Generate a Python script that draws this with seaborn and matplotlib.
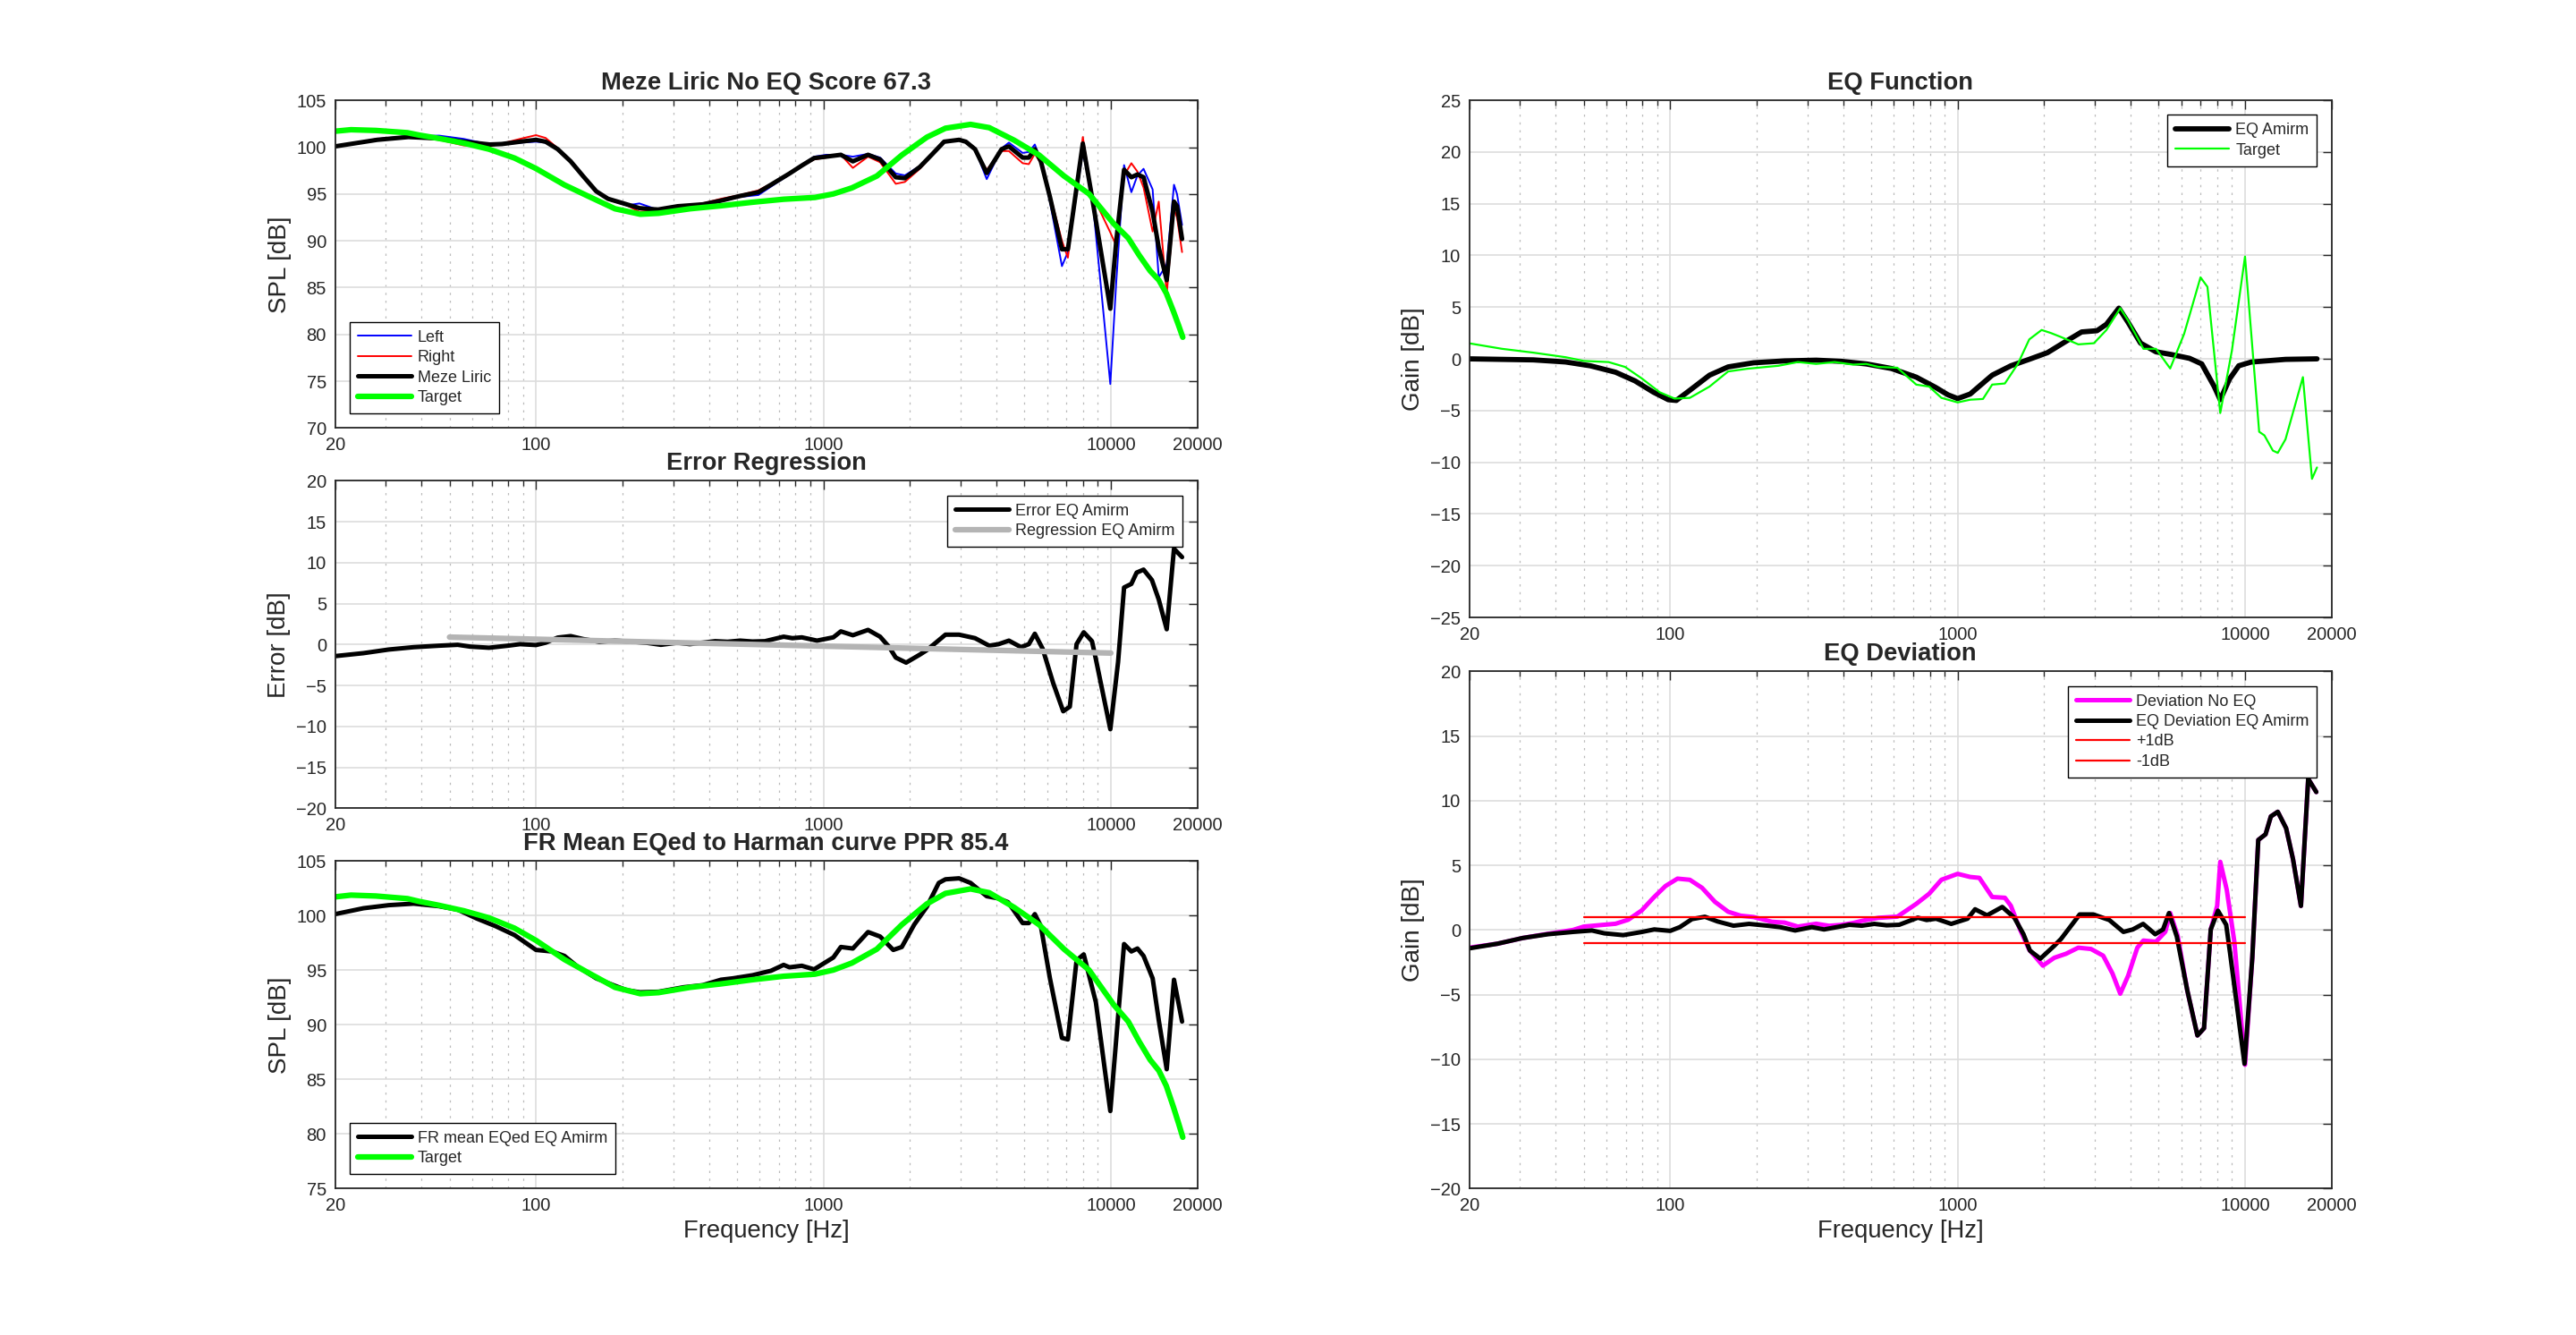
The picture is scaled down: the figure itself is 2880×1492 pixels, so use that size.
import matplotlib
matplotlib.use("Agg")
import matplotlib.pyplot as plt
import seaborn as sns
from matplotlib.ticker import FixedLocator, NullFormatter

# ---- panel 1: raw measurement (Left / Right / mean) ----
f_meas = [20, 28, 36, 46, 56, 69, 76, 88, 100, 108, 119, 132, 146, 162, 178, 207, 229, 250,
          266, 311, 380, 440, 513, 594, 657, 762, 841, 928, 1022, 1150, 1266, 1430, 1575, 1785,
          1920, 2165, 2380, 2630, 2965, 3130, 3370, 3700, 4170, 4420, 4935, 5185, 5440, 5710,
          6140, 6760, 7090, 7990, 8600, 9960, 10440, 11120, 11790, 12380, 13000, 13980, 14680,
          15650, 16590, 17000, 17700]
spl_left = [100.1, 100.9, 101.2, 101.25, 100.9, 100.3, 100.3, 100.5, 100.6, 100.5, 99.8, 98.5,
            96.9, 95.3, 94.5, 93.8, 94.0, 93.6, 93.3, 93.7, 93.8, 94.2, 94.7, 94.9, 95.8, 97.1,
            98.1, 99.0, 99.2, 99.2, 99.0, 99.3, 98.9, 97.2, 97.0, 98.0, 99.3, 100.7, 100.8, 100.7,
            99.8, 96.6, 99.9, 100.5, 99.4, 99.5, 100.3, 98.6, 94.2, 87.3, 88.8, 99.5, 95.0, 74.7,
            85.5, 98.1, 95.2, 97.0, 97.7, 95.5, 86.1, 87.5, 96.0, 95.0, 91.7]
spl_right = [100.1, 100.9, 101.1, 100.8, 100.2, 100.1, 100.4, 100.9, 101.3, 101.0, 99.9, 98.5,
             96.9, 95.3, 94.4, 93.8, 93.1, 93.2, 93.3, 93.7, 94.0, 94.5, 94.9, 95.4, 96.1, 97.2,
             98.0, 98.7, 98.9, 99.2, 97.8, 99.0, 98.4, 96.1, 96.3, 97.7, 99.1, 100.6, 100.9, 100.6,
             99.7, 97.6, 99.6, 99.6, 98.3, 98.2, 99.3, 98.3, 95.0, 90.0, 88.2, 101.1, 95.0, 90.9,
             89.5, 97.0, 98.3, 97.4, 95.7, 91.0, 94.2, 84.3, 93.4, 92.5, 88.8]
spl_meze = [100.1, 100.8, 101.1, 100.95, 100.6, 100.3, 100.35, 100.6, 100.8, 100.6, 99.8, 98.5,
            96.9, 95.3, 94.5, 93.9, 93.5, 93.4, 93.35, 93.7, 93.9, 94.3, 94.8, 95.2, 96.0, 97.2,
            98.05, 98.85, 99.0, 99.2, 98.5, 99.2, 98.7, 96.8, 96.7, 97.9, 99.2, 100.6, 100.8, 100.6,
            99.8, 97.25, 99.8, 100.1, 98.9, 98.9, 99.8, 98.5, 94.7, 89.1, 89.1, 100.4, 94.7, 82.75,
            89.9, 97.6, 96.8, 97.1, 96.8, 93.1, 89.3, 85.8, 94.2, 93.7, 90.2]

# ---- Harman target (panels 1 and 3) ----
f_target = [20, 22.7, 27.7, 35.7, 39.3, 45.9, 56.2, 68.6, 84.2, 100, 125.6, 153.7, 188.3, 230.6,
            267, 343, 440, 566, 727, 934, 1083, 1256, 1534, 1874, 2291, 2659, 3250, 3775, 4608,
            5630, 6877, 8400, 10260, 11500, 12530, 13700, 14700, 15600, 16500, 17200, 17800]
spl_target = [101.72, 101.88, 101.8, 101.56, 101.3, 100.95, 100.44, 99.8, 98.85, 97.73, 95.98,
              94.7, 93.43, 92.85, 92.95, 93.43, 93.75, 94.13, 94.45, 94.64, 95.02, 95.66, 96.93,
              99.17, 101.08, 102.04, 102.45, 102.1, 100.76, 99.17, 96.93, 95.02, 91.8, 90.3, 88.5,
              86.8, 85.8, 84.4, 82.5, 81.0, 79.7]

# ---- panel 3: EQed mean response ----
f_eqed = [20, 25.1, 30.7, 37.5, 45.9, 53.4, 62.3, 72.3, 84.2, 100, 113.7, 125.6, 139, 162, 188,
          207, 230, 267, 326, 380, 440, 485, 566, 657, 727, 762, 841, 928, 1083, 1150, 1266,
          1430, 1575, 1750, 1874, 2070, 2291, 2520, 2659, 2965, 3250, 3700, 4070, 4390, 4935,
          5185, 5440, 5710, 6140, 6760, 7090, 7600, 8050, 8870, 9960, 11120, 11790, 12380,
          13000, 13980, 14680, 15650, 16590, 17700]
spl_eqed = [100.14, 100.68, 100.96, 101.1, 100.87, 100.55, 99.73, 99.04, 98.22, 96.86, 96.72,
            96.31, 95.36, 94.26, 93.58, 93.17, 92.98, 93.03, 93.44, 93.63, 94.13, 94.26, 94.54,
            94.95, 95.49, 95.27, 95.41, 95.08, 96.17, 97.13, 96.99, 98.5, 98.09, 96.86, 97.13,
            99.18, 100.82, 103.0, 103.33, 103.42, 103.0, 101.78, 101.58, 101.23, 99.32, 99.32,
            100.14, 99.04, 94.26, 88.8, 88.66, 95.9, 96.45, 92.08, 82.1, 97.4, 96.72, 96.99,
            96.31, 94.26, 90.44, 85.93, 94.13, 90.3]

# ---- panels 2 and 5: error after EQ ----
f_err = [20, 25.1, 30.7, 37.5, 45.9, 53.4, 59, 68.6, 79.8, 88, 100, 108, 119, 132, 146, 166,
         188, 218, 241, 272, 311, 343, 380, 420, 464, 513, 566, 626, 727, 780, 841, 950, 1083,
         1150, 1266, 1430, 1575, 1695, 1785, 1940, 2165, 2291, 2659, 2965, 3370, 3775, 4070,
         4420, 4870, 5185, 5440, 5790, 6300, 6830, 7200, 7600, 8050, 8600, 8870, 9960, 10600,
         11120, 11790, 12300, 13000, 13900, 14680, 15650, 16590, 17700]
err_eq = [-1.42, -1.06, -0.62, -0.33, -0.15, -0.04, -0.26, -0.4, -0.15, 0.04, -0.07, 0.22, 0.84,
          1.02, 0.66, 0.33, 0.47, 0.33, 0.22, -0.04, 0.22, 0.04, 0.22, 0.4, 0.33, 0.47, 0.36,
          0.4, 0.95, 0.77, 0.87, 0.47, 0.87, 1.6, 1.13, 1.78, 0.95, -0.33, -1.6, -2.22, -1.24,
          -0.69, 1.2, 1.2, 0.77, -0.15, 0.04, 0.47, -0.33, 0.04, 1.31, -0.51, -4.7, -8.16, -7.6,
          0.04, 1.49, 0.4, -1.78, -10.35, -2.15, 6.96, 7.4, 8.78, 9.14, 7.87, 5.5, 1.86, 11.69,
          10.67]
f_regr = [50, 10000]
regr_eq = [0.9, -1.05]

# ---- panel 4: EQ function ----
f_eqfun = [20, 33.4, 43.2, 52.7, 64.5, 75.4, 87.4, 98.5, 105, 117, 137, 159, 195, 250, 322, 394,
           481, 588, 718, 837, 926, 1000, 1106, 1319, 1532, 1773, 2055, 2384, 2700, 3055, 3294,
           3640, 3920, 4330, 4900, 5540, 6410, 7070, 7815, 8200, 8830, 9510, 10500, 13830, 17800]
gain_eq = [0, -0.1, -0.3, -0.67, -1.29, -2.13, -3.22, -3.95, -4.02, -3.04, -1.58, -0.78, -0.38,
           -0.2, -0.13, -0.24, -0.49, -0.93, -1.77, -2.75, -3.48, -3.84, -3.4, -1.58, -0.67,
           -0.05, 0.6, 1.7, 2.6, 2.72, 3.34, 4.9, 3.52, 1.52, 0.68, 0.42, 0.05, -0.49, -2.68,
           -3.95, -1.95, -0.67, -0.31, -0.05, 0]
f_need = [20, 26, 33.4, 43.2, 50, 61, 69.6, 79.5, 91.8, 103.5, 117, 137, 159, 185, 216, 238,
          278, 322, 373, 433, 481, 530, 617, 718, 796, 878, 1000, 1106, 1225, 1319, 1460, 1620,
          1775, 1960, 2110, 2280, 2630, 2980, 3294, 3680, 3920, 4430, 4900, 5490, 6140, 7000,
          7400, 8200, 9000, 10000, 11200, 11680, 12500, 13000, 13830, 15900, 17100, 17800]
gain_need = [1.5, 0.97, 0.6, 0.16, -0.2, -0.31, -0.78, -1.88, -3.22, -3.84, -3.77, -2.68, -1.22,
             -0.96, -0.78, -0.67, -0.31, -0.49, -0.31, -0.56, -0.49, -0.78, -0.86, -2.49, -2.68,
             -3.77, -4.21, -3.95, -3.88, -2.49, -2.38, -0.49, 1.88, 2.79, 2.5, 2.13, 1.4, 1.51,
             2.79, 4.9, 3.7, 0.97, 0.97, -0.93, 2.42, 7.88, 6.96, -5.24, 0.78, 9.89, -7.05, -7.4,
             -8.87, -9.09, -7.78, -1.77, -11.6, -10.5]

# ---- panel 5: deviation without EQ ----
f_dev = [20, 25.1, 30.7, 37.5, 45.9, 50, 58, 64.5, 71.4, 79.5, 87.4, 96.3, 106, 117, 129, 143,
         159, 176, 195, 226, 250, 278, 322, 357, 394, 433, 470, 530, 617, 718, 796, 878, 1000,
         1106, 1190, 1319, 1460, 1532, 1650, 1775, 1980, 2170, 2384, 2630, 2910, 3210, 3460,
         3680, 3920, 4220, 4430, 4900, 5280, 5490, 5830, 6300, 6830, 7200, 7600, 8000, 8200,
         8640, 9180, 10000, 10600, 11120, 11790, 12300, 13000, 13900, 14680, 15650, 16590, 17700]
dev_noeq = [-1.37, -1.06, -0.62, -0.3, 0.0, 0.26, 0.39, 0.48, 0.79, 1.5, 2.49, 3.4, 3.97, 3.88,
            3.26, 2.18, 1.41, 1.1, 1.0, 0.63, 0.57, 0.26, 0.48, 0.32, 0.39, 0.54, 0.73, 0.94,
            1.03, 2.02, 2.8, 3.88, 4.34, 4.1, 4.03, 2.55, 2.49, 1.87, 0.02, -1.53, -2.76, -2.15,
            -1.84, -1.37, -1.47, -1.99, -3.38, -4.93, -3.54, -1.37, -0.82, -0.91, -0.14, 1.31,
            -0.45, -4.7, -8.16, -7.6, 0.04, 1.87, 5.27, 3.1, -0.91, -10.43, -2.15, 6.96, 7.4,
            8.78, 9.14, 7.87, 5.5, 1.86, 11.69, 10.67]
f_tol = [50, 10000]
tol_plus = [1, 1]
tol_minus = [-1, -1]

xticks = [20, 100, 1000, 10000, 20000]
xticklabels = ["20", "100", "1000", "10000", "20000"]
minor_x = [30, 40, 50, 60, 70, 80, 90, 200, 300, 400, 500, 600, 700, 800, 900,
           2000, 3000, 4000, 5000, 6000, 7000, 8000, 9000]

sns.set_style("white")
plt.rcParams["font.family"] = ["Liberation Sans", "DejaVu Sans"]


def setup(ax, ylo, yhi, title, ylabel, xlabel=None):
    ax.set_xscale("log")
    ax.set_xlim(20, 20000)
    ax.set_ylim(ylo, yhi)
    ax.set_xticks(xticks)
    ax.set_xticklabels(xticklabels)
    ax.xaxis.set_minor_locator(FixedLocator(minor_x))
    ax.xaxis.set_minor_formatter(NullFormatter())
    ax.set_yticks(range(ylo, yhi + 1, 5))
    ax.grid(True, which="major", color="#dddddd", lw=1.2)
    ax.grid(True, which="minor", axis="x", color="#bbbbbb", lw=0.9, ls=(0, (2, 5)))
    ax.set_axisbelow(True)
    ax.tick_params(which="both", direction="in", top=True, right=True, labelsize=14.5,
                   colors="#262626", width=1.0)
    ax.tick_params(which="major", length=7, pad=7)
    ax.tick_params(which="minor", length=4)
    for s in ax.spines.values():
        s.set_color("#262626")
        s.set_linewidth(1.3)
    ax.set_title(title, fontsize=19.7, fontweight="bold", pad=9)
    ax.set_ylabel(ylabel, fontsize=20, labelpad=4, color="#262626")
    if xlabel:
        ax.set_xlabel(xlabel, fontsize=19.7, labelpad=4.5, color="#262626")


def add_legend(ax, loc):
    leg = ax.legend(loc=loc, fontsize=13, frameon=True, fancybox=False, framealpha=1,
                    edgecolor="black", handlelength=3.3, borderaxespad=0.9, labelspacing=0.3,
                    borderpad=0.5, handletextpad=0.4)
    leg.get_frame().set_linewidth(1.0)


fig = plt.figure(figsize=(28.8, 14.92), dpi=100)
ax1 = fig.add_axes([0.1301, 0.6794, 0.3347, 0.2453])
ax2 = fig.add_axes([0.1301, 0.3946, 0.3347, 0.2453])
ax3 = fig.add_axes([0.1301, 0.1097, 0.3347, 0.2453])
ax4 = fig.add_axes([0.5704, 0.5375, 0.3347, 0.3874])
ax5 = fig.add_axes([0.5704, 0.1097, 0.3347, 0.3874])

# panel 1
sns.lineplot(x=f_meas, y=spl_left, ax=ax1, color="#0000ff", lw=1.4, label="Left", estimator=None, sort=False)
sns.lineplot(x=f_meas, y=spl_right, ax=ax1, color="#ff0000", lw=1.4, label="Right", estimator=None, sort=False)
sns.lineplot(x=f_meas, y=spl_meze, ax=ax1, color="black", lw=3.6, label="Meze Liric", estimator=None, sort=False)
sns.lineplot(x=f_target, y=spl_target, ax=ax1, color="#00ff00", lw=4.5, label="Target", estimator=None, sort=False)
setup(ax1, 70, 105, "Meze Liric No EQ Score 67.3", "SPL [dB]")
add_legend(ax1, "lower left")

# panel 2
sns.lineplot(x=f_err, y=err_eq, ax=ax2, color="black", lw=3.6, label="Error EQ Amirm", estimator=None, sort=False)
sns.lineplot(x=f_regr, y=regr_eq, ax=ax2, color="#b4b4b4", lw=4.5, label="Regression EQ Amirm", estimator=None, sort=False)
setup(ax2, -20, 20, "Error Regression", "Error [dB]")
add_legend(ax2, "upper right")

# panel 3
sns.lineplot(x=f_eqed, y=spl_eqed, ax=ax3, color="black", lw=3.6, label="FR mean EQed EQ Amirm", estimator=None, sort=False)
sns.lineplot(x=f_target, y=spl_target, ax=ax3, color="#00ff00", lw=4.5, label="Target", estimator=None, sort=False)
setup(ax3, 75, 105, "FR Mean EQed to Harman curve PPR 85.4", "SPL [dB]", "Frequency [Hz]")
add_legend(ax3, "lower left")

# panel 4
sns.lineplot(x=f_eqfun, y=gain_eq, ax=ax4, color="black", lw=4.2, label="EQ Amirm", estimator=None, sort=False)
sns.lineplot(x=f_need, y=gain_need, ax=ax4, color="#00ff00", lw=1.6, label="Target", estimator=None, sort=False)
setup(ax4, -25, 25, "EQ Function", "Gain [dB]")
add_legend(ax4, "upper right")

# panel 5
sns.lineplot(x=f_dev, y=dev_noeq, ax=ax5, color="#ff00ff", lw=3.6, label="Deviation No EQ", estimator=None, sort=False)
sns.lineplot(x=f_err, y=err_eq, ax=ax5, color="black", lw=3.6, label="EQ Deviation EQ Amirm", estimator=None, sort=False)
sns.lineplot(x=f_tol, y=tol_plus, ax=ax5, color="#ff0000", lw=1.6, label="+1dB", estimator=None, sort=False)
sns.lineplot(x=f_tol, y=tol_minus, ax=ax5, color="#ff0000", lw=1.6, label="-1dB", estimator=None, sort=False)
setup(ax5, -20, 20, "EQ Deviation", "Gain [dB]", "Frequency [Hz]")
add_legend(ax5, "upper right")

fig.savefig("out.png", dpi=100)
